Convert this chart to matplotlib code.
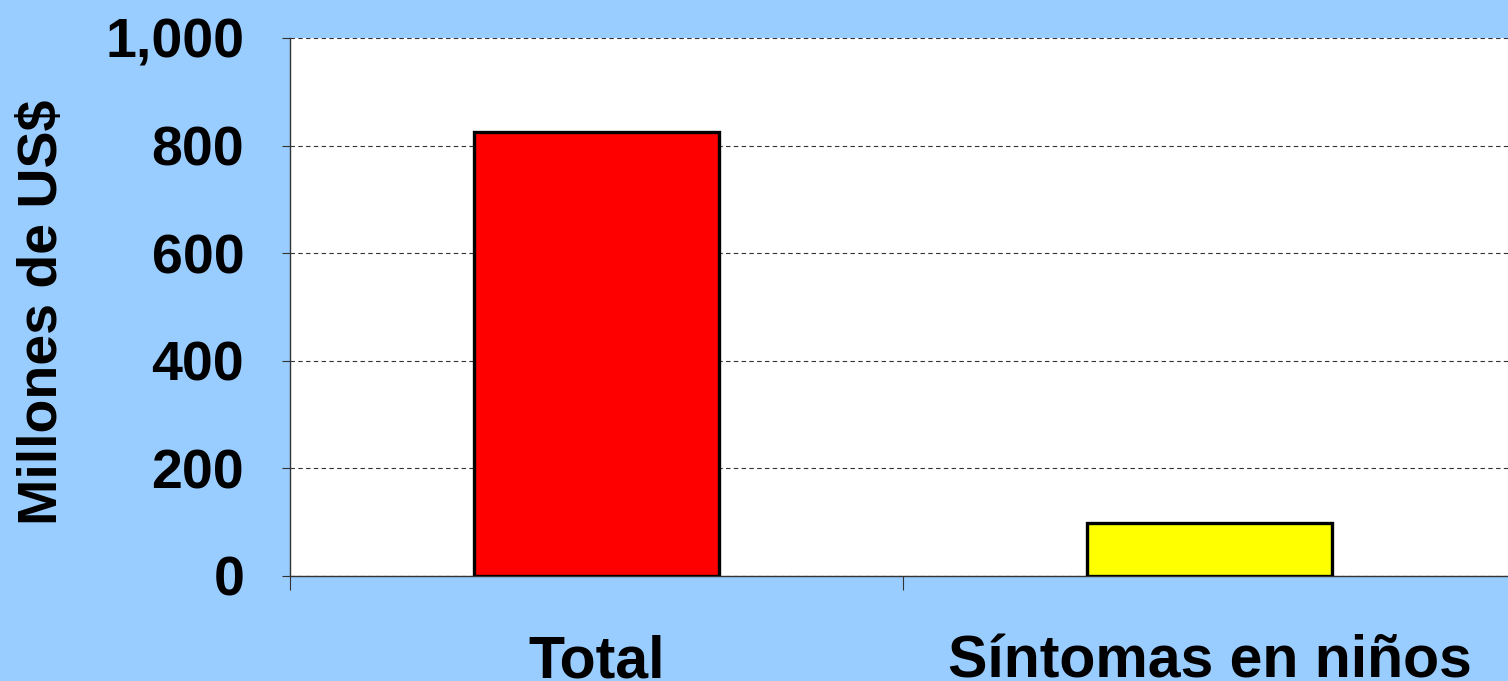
import matplotlib.pyplot as plt
from matplotlib.ticker import FuncFormatter

categories = ['Total', 'Síntomas en niños']
values = [826, 98]
bar_colors = ['#FF0000', '#FFFF00']
yticks = [0, 200, 400, 600, 800, 1000]

plt.rcParams['font.family'] = ['Liberation Sans', 'DejaVu Sans']
plt.rcParams['font.weight'] = 'bold'

fig = plt.figure(figsize=(15.08, 6.81), dpi=100)
fig.patch.set_facecolor('#99CCFF')

# plot area runs past the right edge of the figure, like the original
ax = fig.add_axes([290 / 1508, 105 / 681, 1226 / 1508, 538 / 681])
ax.set_facecolor('white')

x = list(range(len(categories)))
ax.bar(x, values, width=0.4, color=bar_colors, edgecolor='black', linewidth=2.4, zorder=3)

ax.set_xlim(-0.5, 1.5)
ax.set_ylim(0, 1000)
ax.set_yticks(yticks)
ax.yaxis.set_major_formatter(FuncFormatter(lambda v, p: f'{int(v):,}'))
ax.yaxis.grid(True, linestyle=(0, (4, 3)), color='#333333', linewidth=0.8)
ax.set_axisbelow(True)

ax.set_xticks(x)
ax.set_xticklabels(categories)
ax.set_xticks([-0.5, 0.5, 1.5], minor=True)
ax.tick_params(axis='x', which='major', length=0, pad=42, labelsize=42.5)
ax.tick_params(axis='x', which='minor', length=10, width=0.8, direction='out', color='#333333')
ax.tick_params(axis='y', length=6, width=0.8, direction='out', pad=27, labelsize=40, color='#333333')

for side in ['top', 'right']:
    ax.spines[side].set_visible(False)
for side in ['left', 'bottom']:
    ax.spines[side].set_color('#333333')
    ax.spines[side].set_linewidth(1.0)

ax.set_ylabel('Millones de US$', fontsize=40, fontweight='bold')
ax.yaxis.set_label_coords(-0.18, 0.49)

fig.savefig('out.png', dpi=100, facecolor=fig.get_facecolor())
